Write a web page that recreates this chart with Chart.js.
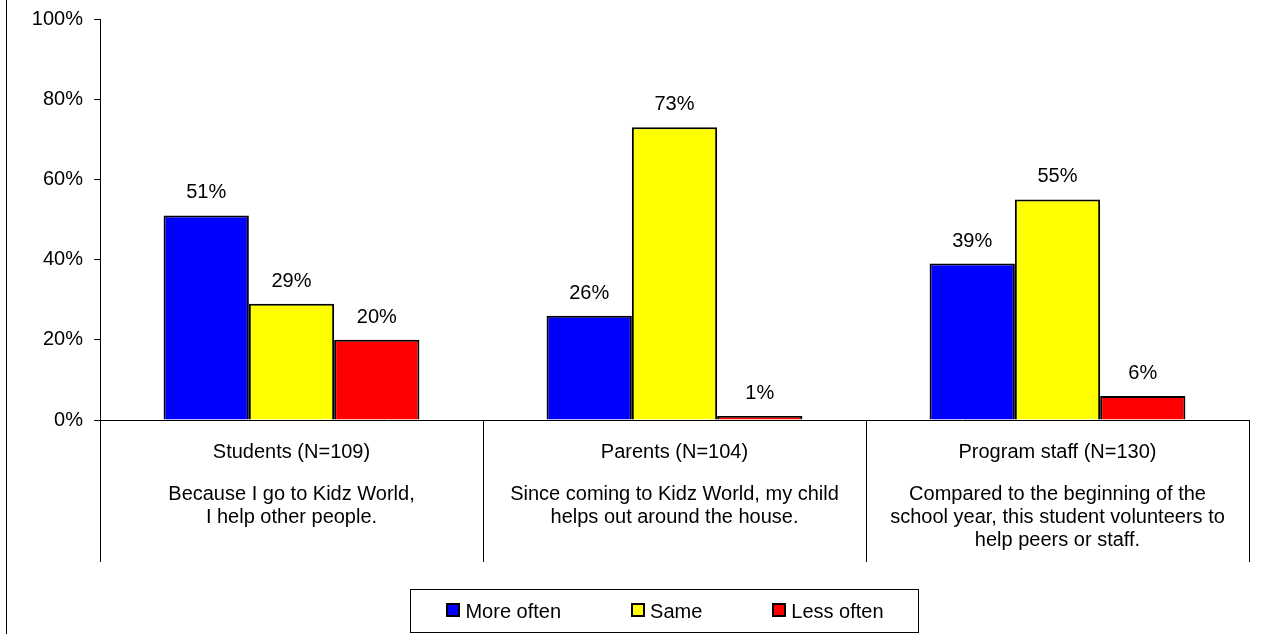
<!DOCTYPE html>
<html>
<head>
<meta charset="utf-8">
<script src="https://cdn.jsdelivr.net/npm/chart.js@4.4.1/dist/chart.umd.min.js"></script>
<style>
  html, body { margin: 0; padding: 0; background: #fff; }
  #wrap { width: 1267px; height: 634px; position: relative; }
</style>
</head>
<body>
<div id="wrap"><canvas id="chart" width="1267" height="634"></canvas></div>
<script>
// Respondent groups and the question each group answered
const categories = ['Students (N=109)', 'Parents (N=104)', 'Program staff (N=130)'];
const questions = [
  ['Because I go to Kidz World,', 'I help other people.'],
  ['Since coming to Kidz World, my child', 'helps out around the house.'],
  ['Compared to the beginning of the', 'school year, this student volunteers to', 'help peers or staff.']
];

// Response series (percent of respondents)
const seriesNames = ['More often', 'Same', 'Less often'];
const moreOften = [51, 26, 39];
const same = [29, 73, 55];
const lessOften = [20, 1, 6];

// Value axis
const yMin = 0;
const yMax = 100;
const yStep = 20;

const FONT = "'Liberation Sans', Arial, sans-serif";
const seriesColors = ['#0000FF', '#FFFF00', '#FF0000'];

// Left frame line of the chart box
const framePlugin = {
  id: 'frame',
  beforeDraw(chart) {
    const ctx = chart.ctx;
    ctx.save();
    ctx.strokeStyle = '#000';
    ctx.lineWidth = 1;
    ctx.beginPath();
    ctx.moveTo(6.5, 0);
    ctx.lineTo(6.5, chart.height);
    ctx.stroke();
    ctx.restore();
  }
};

// Percentage labels above each bar
const valueLabels = {
  id: 'valueLabels',
  afterDatasetsDraw(chart) {
    const ctx = chart.ctx;
    ctx.save();
    ctx.font = '20px ' + FONT;
    ctx.fillStyle = '#000';
    ctx.textAlign = 'center';
    ctx.textBaseline = 'alphabetic';
    chart.data.datasets.forEach((ds, di) => {
      const meta = chart.getDatasetMeta(di);
      meta.data.forEach((bar, i) => {
        ctx.fillText(ds.data[i] + '%', bar.x, bar.y - 17);
      });
    });
    ctx.restore();
  }
};

// Group name and question text under each category
const categoryText = {
  id: 'categoryText',
  afterDraw(chart) {
    const ctx = chart.ctx;
    const x = chart.scales.x;
    const base = chart.chartArea.bottom;
    ctx.save();
    ctx.font = '20px ' + FONT;
    ctx.fillStyle = '#000';
    ctx.textAlign = 'center';
    ctx.textBaseline = 'alphabetic';
    categories.forEach((name, i) => {
      const cx = x.getPixelForValue(i);
      ctx.fillText(name, cx, base + 38);
      questions[i].forEach((line, j) => {
        ctx.fillText(line, cx, base + 80 + j * 23);
      });
    });
    ctx.restore();
  }
};

// Boxed legend below the category text
const boxedLegend = {
  id: 'boxedLegend',
  afterDraw(chart) {
    const ctx = chart.ctx;
    ctx.save();
    ctx.font = '20px ' + FONT;
    const marker = 14, gapText = 5, gapItem = 70;
    const items = chart.data.datasets.map(ds => ({
      label: ds.label, color: ds.backgroundColor, w: ctx.measureText(ds.label).width
    }));
    const total = items.reduce((s, it) => s + marker + gapText + it.w, 0) + gapItem * (items.length - 1);
    const centerX = 665;
    let x = centerX - total / 2;
    const boxL = Math.round(x - 36), boxR = Math.round(x + total + 34);
    ctx.strokeStyle = '#000';
    ctx.lineWidth = 1;
    ctx.strokeRect(boxL + 0.5, 589.5, boxR - boxL, 43);
    ctx.textBaseline = 'alphabetic';
    ctx.textAlign = 'left';
    items.forEach(it => {
      ctx.fillStyle = it.color;
      ctx.fillRect(Math.round(x), 603, marker, marker);
      ctx.lineWidth = 2;
      ctx.strokeStyle = '#000';
      ctx.strokeRect(Math.round(x) + 1, 604, marker - 2, marker - 2);
      ctx.fillStyle = '#000';
      ctx.fillText(it.label, x + marker + gapText, 618);
      x += marker + gapText + it.w + gapItem;
    });
    ctx.restore();
  }
};

const datasets = [moreOften, same, lessOften].map((vals, i) => ({
  label: seriesNames[i],
  data: vals,
  backgroundColor: seriesColors[i],
  borderColor: '#000',
  borderWidth: 2,
  borderSkipped: 'start',
  categoryPercentage: 0.668,
  barPercentage: 1.0
}));

new Chart(document.getElementById('chart'), {
  type: 'bar',
  data: { labels: categories, datasets },
  options: {
    responsive: false,
    animation: false,
    layout: { padding: { left: 0, right: 18, top: 19, bottom: 72 } },
    plugins: {
      legend: { display: false },
      tooltip: { enabled: false }
    },
    scales: {
      x: {
        offset: true,
        grid: {
          offset: true,
          drawOnChartArea: false,
          drawTicks: true,
          tickLength: 142,
          color: '#000',
          lineWidth: 1
        },
        border: { display: true, color: '#000', width: 1 },
        ticks: { display: false }
      },
      y: {
        min: yMin,
        max: yMax,
        afterFit(scale) {
          scale.width = 100;
          scale.paddingTop = 0;
          scale.paddingBottom = 0;
        },
        ticks: {
          stepSize: yStep,
          padding: 11,
          color: '#000',
          font: { family: FONT, size: 20 },
          callback: v => v + '%'
        },
        grid: {
          drawOnChartArea: false,
          drawTicks: true,
          tickLength: 6,
          color: '#000'
        },
        border: { display: true, color: '#000', width: 1 }
      }
    }
  },
  plugins: [framePlugin, valueLabels, categoryText, boxedLegend]
});
</script>
</body>
</html>
